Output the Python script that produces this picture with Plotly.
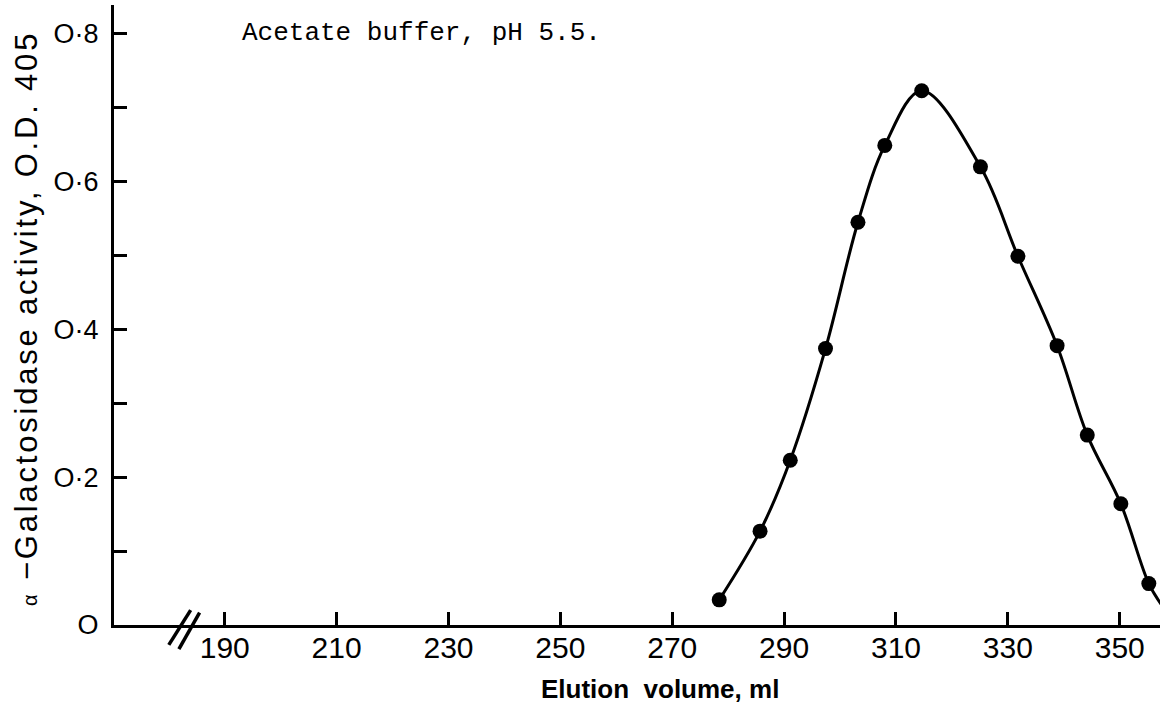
import plotly.graph_objects as go

# Data
elution_ml = [278.4, 285.7, 291.1, 297.4, 303.2, 308.0, 314.6, 325.1, 331.8, 338.8, 344.2, 350.2, 355.2]
activity = [0.034, 0.127, 0.223, 0.374, 0.545, 0.649, 0.723, 0.620, 0.499, 0.378, 0.257, 0.164, 0.056]
# hand-drawn curve continues slightly beyond the last point
tail_ml = [357.6]
tail_act = [0.026]

x_ticks = [190, 210, 230, 250, 270, 290, 310, 330, 350]
y_ticks = [0, 0.2, 0.4, 0.6, 0.8]
y_ticklabels = ["O", "O·2", "O·4", "O·6", "O·8"]

FONT = "Liberation Sans, Arial, sans-serif"

fig = go.Figure()
fig.add_trace(go.Scatter(
    x=elution_ml + tail_ml, y=activity + tail_act, mode="lines",
    line=dict(color="black", width=3, shape="spline", smoothing=1.0),
    hoverinfo="skip", showlegend=False, cliponaxis=False))
fig.add_trace(go.Scatter(
    x=elution_ml, y=activity, mode="markers",
    marker=dict(color="black", size=15), showlegend=False, cliponaxis=False))

# axis break marks "//" (decoration, x in data units, y relative to plot area)
for x0, y0, x1, y1 in [(180.0, -0.032, 183.9, 0.024), (181.8, -0.039, 185.5, 0.020)]:
    fig.add_shape(type="line", xref="x", yref="paper", x0=x0, y0=y0, x1=x1, y1=y1,
                  line=dict(color="black", width=3.5))

fig.update_layout(
    width=1167, height=720,
    margin=dict(l=114, r=7, t=5, b=95),
    paper_bgcolor="white", plot_bgcolor="white",
    font=dict(family=FONT, color="black"),
    xaxis=dict(range=[170.2, 357.2], showline=True, linecolor="black", linewidth=3,
               showgrid=False, zeroline=False, tickmode="array", tickvals=x_ticks,
               ticks="inside", ticklen=13, tickwidth=2.5, tickcolor="black",
               tickfont=dict(size=30, family=FONT), ticklabelstandoff=-6),
    yaxis=dict(range=[0, 0.839], showline=True, linecolor="black", linewidth=3,
               showgrid=False, zeroline=False, tickmode="array", tickvals=y_ticks,
               ticktext=y_ticklabels, ticks="inside", ticklen=13, tickwidth=2.5,
               tickcolor="black", tickfont=dict(size=27, family=FONT), ticklabelstandoff=7,
               minor=dict(dtick=0.1, tick0=0, ticks="inside", ticklen=13, tickwidth=2.5,
                          tickcolor="black", showgrid=False)),
)

fig.add_annotation(text="Elution\u00a0\u00a0volume, ml", xref="paper", yref="paper",
                   x=0.522, y=-0.103, showarrow=False, xanchor="center", yanchor="middle",
                   font=dict(size=26, family=FONT, color="black", weight="bold"))
fig.add_annotation(text="<span style='letter-spacing:2.8px'><span style='font-size:20px'>α</span>"
                        " −Galactosidase activity, O.D. 405</span>",
                   xref="paper", yref="paper", x=-0.083, y=0.494, textangle=-90,
                   showarrow=False, xanchor="center", yanchor="middle",
                   font=dict(size=31, family=FONT, color="black"))
fig.add_annotation(text="Acetate buffer, pH 5.5.", xref="paper", yref="paper",
                   x=0.1205, y=0.955, showarrow=False, xanchor="left", yanchor="middle",
                   font=dict(size=26, family="Liberation Mono, DejaVu Sans Mono, monospace",
                             color="black"))

fig.write_html("out.html", config={"displayModeBar": False},
               post_script="document.body.style.margin='0';document.body.style.overflow='hidden';")
